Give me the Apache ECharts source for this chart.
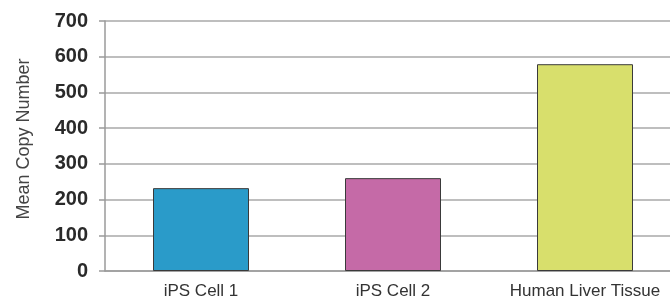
<!DOCTYPE html>
<html>
<head>
<meta charset="utf-8">
<script src="https://cdn.jsdelivr.net/npm/echarts@6/dist/echarts.min.js"></script>
<style>
  html, body { margin: 0; padding: 0; background: #fff; }
  #chart { width: 670px; height: 302px; }
</style>
</head>
<body>
<div id="chart"></div>
<script>
// data
var categories = ['iPS Cell 1', 'iPS Cell 2', 'Human Liver Tissue'];
var copyNumbers = [232, 260, 579];
var barColors = ['#2a9bc9', '#c56aa7', '#d8df6c'];
var yTicks = [0, 100, 200, 300, 400, 500, 600, 700];

var chart = echarts.init(document.getElementById('chart'));

var option = {
    animation: false,
    grid: {
        left: 105,
        width: 576,   // the plot runs past the right edge in the original
        top: 21,
        bottom: 31,
        outerBoundsMode: 'none'
    },
    xAxis: {
        type: 'category',
        data: categories,
        axisLine: { lineStyle: { color: '#9a9a9a', width: 1.5 } },
        axisTick: { show: false },
        axisLabel: {
            interval: 0,
            margin: 12,
            fontSize: 17,
            color: '#333',
            fontFamily: 'Liberation Sans'
        }
    },
    yAxis: {
        type: 'value',
        min: yTicks[0],
        max: yTicks[yTicks.length - 1],
        interval: 100,
        name: 'Mean Copy Number',
        nameLocation: 'middle',
        nameGap: 72,
        nameTextStyle: {
            fontSize: 18,
            color: '#444',
            fontFamily: 'Liberation Sans',
            padding: [0, 0, 0, 14]
        },
        axisLine: { show: true, lineStyle: { color: '#9a9a9a', width: 1.5 } },
        axisTick: { show: true, length: 6, lineStyle: { color: '#9a9a9a', width: 1.5 } },
        axisLabel: {
            margin: 17,
            fontSize: 20,
            fontWeight: 'bold',
            color: '#2a2a2a',
            fontFamily: 'Liberation Sans'
        },
        splitLine: { lineStyle: { color: '#a8a8a8', width: 1.5 } }
    },
    series: [{
        type: 'bar',
        barWidth: '50%',
        data: copyNumbers.map(function (v, i) {
            return {
                value: v,
                itemStyle: { color: barColors[i] }
            };
        }),
        itemStyle: { borderColor: '#3a3a3a', borderWidth: 1 }
    }]
};

chart.setOption(option);
</script>
</body>
</html>
